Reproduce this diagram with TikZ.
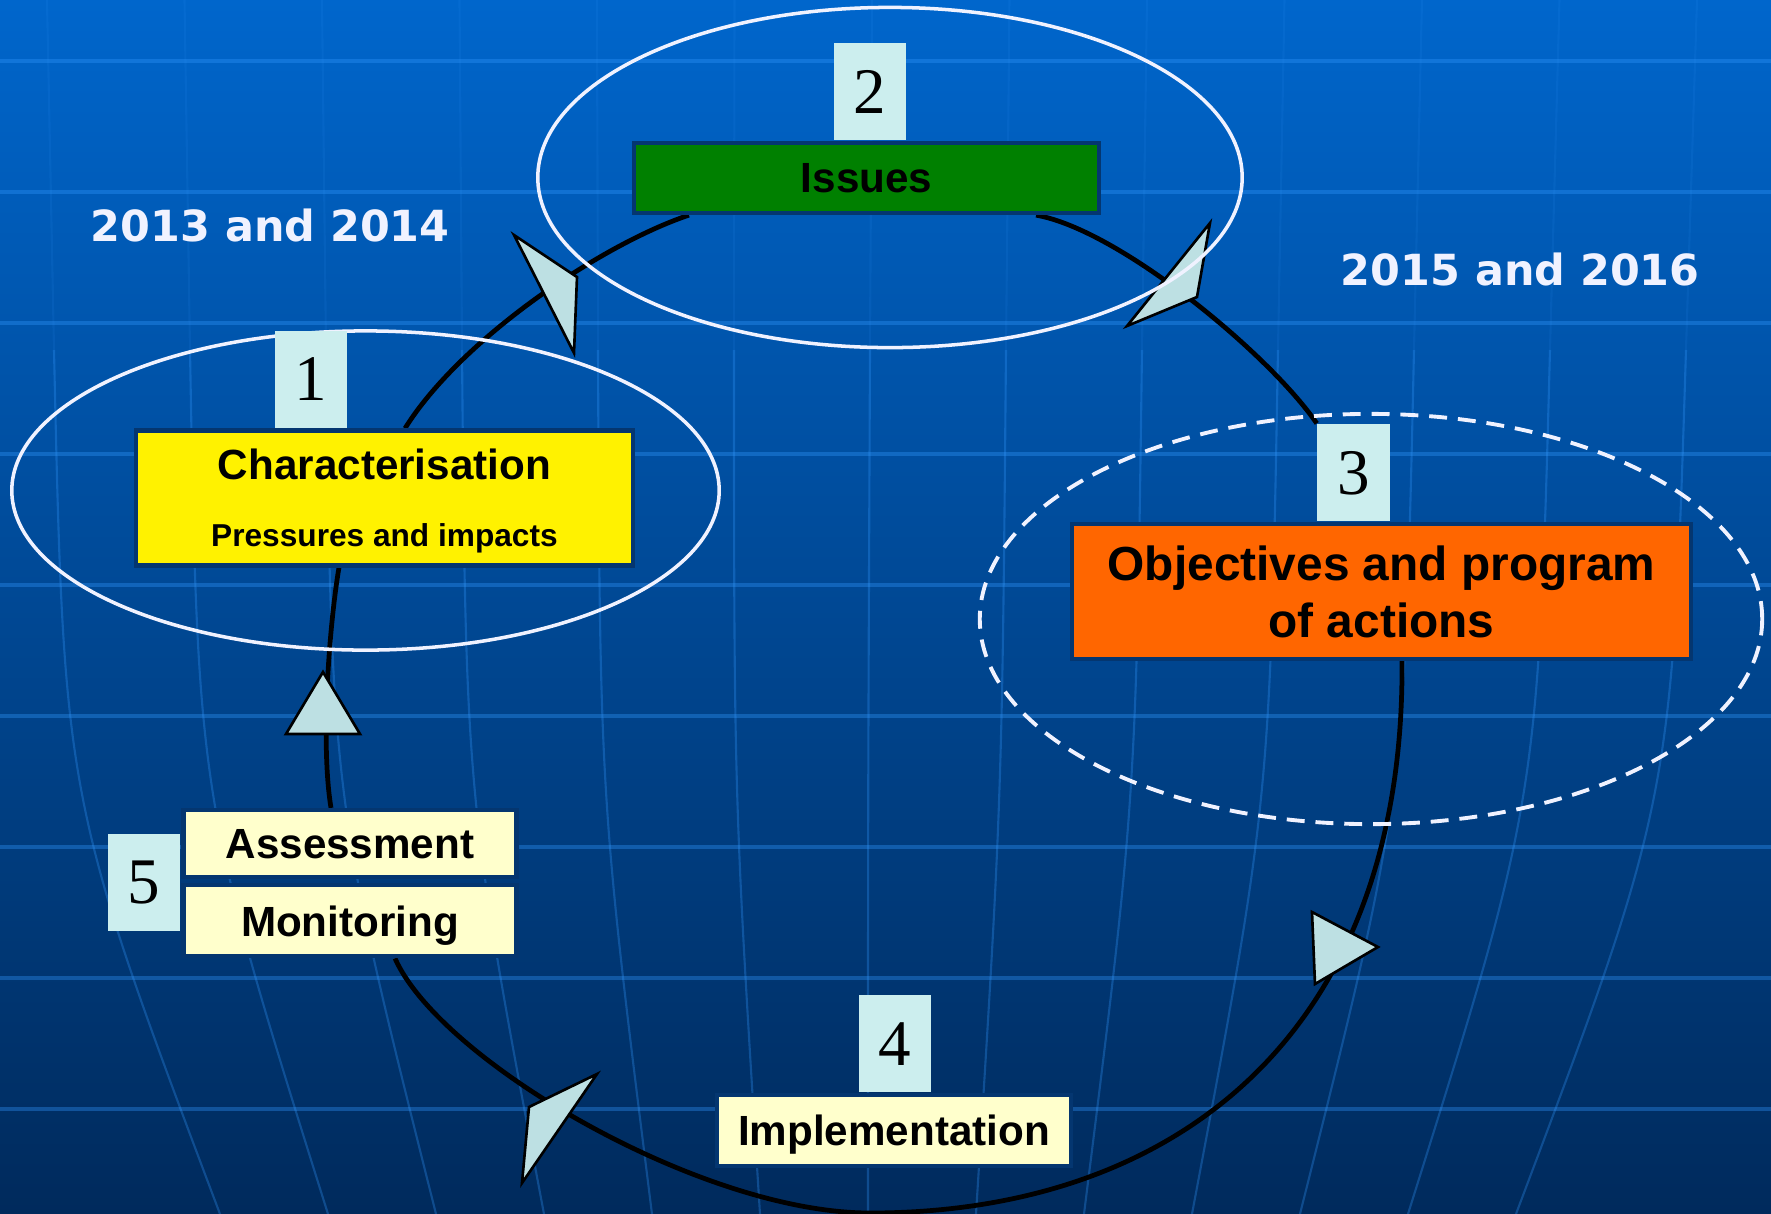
\documentclass[tikz,border=0pt]{standalone}
\usepackage{fontspec}
\setmainfont{Liberation Sans}
\newfontfamily\yearfont{DejaVu Sans}
\newfontfamily\numfont{Liberation Serif}
\usetikzlibrary{positioning}

\definecolor{bgtop}{HTML}{0066CC}
\definecolor{bgmid}{HTML}{004D9C}
\definecolor{bgbot}{HTML}{002A5C}
\definecolor{gridblue}{HTML}{3399FF}
\definecolor{frameblue}{HTML}{043670}
\definecolor{numcyan}{HTML}{CCEEEE}
\definecolor{arrowcyan}{HTML}{BDE0E3}
\definecolor{issuegreen}{HTML}{008000}
\definecolor{actorange}{HTML}{FF6600}
\definecolor{paleyellow}{HTML}{FFFFCC}
\definecolor{ringwhite}{HTML}{F0F2FF}

\pgfdeclarelayer{background}
\pgfdeclarelayer{loop}
\pgfsetlayers{background,loop,main}

\begin{document}
\begin{tikzpicture}[x=0.01cm,y=-0.01cm,
    stagebox/.style={draw=frameblue,line width=1.2pt,inner sep=0pt,
      font=\fontsize{12}{14}\selectfont\bfseries,text depth=0pt},
    numbox/.style={fill=numcyan,inner sep=0pt,minimum width=0.72cm,minimum height=0.97cm,
      font=\numfont\fontsize{18.5}{20}\selectfont,text depth=0pt},
    ring/.style={draw=ringwhite,line width=1pt},
    cycleline/.style={draw=black,line width=1.35pt},
    tri/.style={fill=arrowcyan,draw=black,line width=0.75pt,line join=miter},
    yeartext/.style={text=ringwhite,font=\yearfont\fontsize{12.2}{14}\selectfont\bfseries,
      inner sep=0pt,anchor=base west},
    gridline/.style={gridblue,opacity=0.35,line width=1pt}]
  \useasboundingbox (0,0) rectangle (1771,1214);

  % globe background
  \begin{pgfonlayer}{background}
    \shade[top color=bgtop,middle color=bgmid,bottom color=bgbot] (0,0) rectangle (1771,1214);
    \foreach \y in {61,192,...,1109}
      \draw[gridline] (0,\y) -- (1771,\y);
    \foreach \k in {-6,...,6}{
      \draw[gridline,opacity=0.1,line width=0.6pt] ({872+137.5*\k},0) -- ({870+136*\k},350);
      \draw[gridline,opacity=0.3,line width=0.6pt] ({870+136*\k},350) .. controls ({868+134*\k},800) .. ({868+108*\k},1214);
    }
  \end{pgfonlayer}

  % stages
  \node[stagebox,fill=issuegreen,minimum width=4.65cm,minimum height=0.70cm] (issues) at (866.5,178) {Issues};
  \node[numbox,above=0pt of issues.north,xshift=0.035cm] (num2) {2};

  \node[stagebox,fill=yellow,minimum width=4.97cm,minimum height=1.35cm,align=center,
    font=\fontsize{12}{19}\selectfont\bfseries] (charac) at (384.5,498)
    {Characterisation\\{\fontsize{9}{19}\selectfont Pressures and impacts}};
  \node[numbox,above=0pt of charac.north,xshift=-0.735cm] (num1) {1};

  \node[stagebox,fill=actorange,minimum width=6.19cm,minimum height=1.35cm,align=center,
    font=\fontsize{13.6}{16.2}\selectfont\bfseries] (obj) at (1381.5,591.5)
    {Objectives and program\\of actions};
  \node[numbox,above=0pt of obj.north,xshift=-0.28cm] (num3) {3};

  \node[stagebox,fill=paleyellow,minimum width=3.54cm,minimum height=0.71cm] (impl) at (894,1130.5) {Implementation};
  \node[numbox,above=0pt of impl.north,xshift=0.01cm] (num4) {4};

  \node[stagebox,fill=paleyellow,minimum width=3.33cm,minimum height=0.67cm] (assess) at (350,843.5) {Assessment};
  \node[stagebox,fill=paleyellow,minimum width=3.33cm,minimum height=0.71cm,below=0.04cm of assess] (monit) {Monitoring};
  \node[numbox,left=0.01cm of assess.south west,yshift=-0.03cm] (num5) {5};

  \node[yeartext] (yearsleft) at (90,241) {2013 and 2014};
  \node[yeartext] (yearsright) at (1340,285) {2015 and 2016};

  % the cycle
  \coordinate (loopbottom) at (870,1213);
  \begin{pgfonlayer}{loop}
    \draw[cycleline] ([xshift=-1.775cm]issues.south) .. controls (600,245) and (460,340) .. ([xshift=0.205cm]charac.north);
    \draw[cycleline] ([xshift=-0.455cm]charac.south) .. controls (330,620) and (320,740) .. ([xshift=-0.19cm]assess.north);
    \draw[cycleline] ([xshift=0.45cm]monit.south) .. controls (440,1060) and (700,1213) .. (loopbottom)
      .. controls (1180,1213) and (1405,1030) .. ([xshift=0.205cm]obj.south);
    \draw[cycleline] (num3.north west) .. controls (1270,355) and (1120,230) .. ([xshift=1.695cm]issues.south);

    \filldraw[tri] (514,235) -- (577,277) -- (574,353) -- cycle;
    \filldraw[tri] (1210,223) -- (1197,297) -- (1127,326) -- cycle;
    \filldraw[tri] (323,672) -- (286,734) -- (360,734) -- cycle;
    \filldraw[tri] (1312,912) -- (1378,947) -- (1315,984) -- cycle;
    \filldraw[tri] (597,1074) -- (529,1107) -- (522,1183) -- cycle;

    \draw[ring] (890,177.5) ellipse [x radius=3.52cm,y radius=1.70cm];
    \draw[ring] (365.5,490.5) ellipse [x radius=3.535cm,y radius=1.595cm];
    \draw[ring,line width=1.1pt,dash pattern=on 5.1pt off 3.1pt] (1371,619) ellipse [x radius=3.91cm,y radius=2.05cm];
  \end{pgfonlayer}
\end{tikzpicture}
\end{document}
